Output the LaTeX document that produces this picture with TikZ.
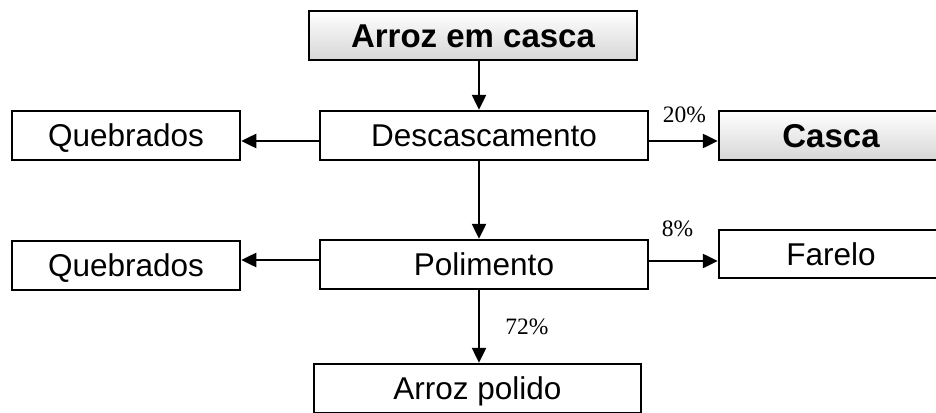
\documentclass[tikz,border=0pt]{standalone}
\usepackage{fontspec}
\usepackage{tikz}
\usetikzlibrary{arrows.meta,positioning}
\newfontfamily\boxfont{Liberation Sans}
\newfontfamily\pctfont{Liberation Serif}
\newcommand{\boxht}{49pt}
\tikzset{
    boxsty/.style={draw,line width=2.5pt,rectangle,fill=white,minimum height=\boxht,
                   inner sep=0pt,text height=22.5pt,text depth=0pt,
                   font=\boxfont\fontsize{31.5}{36}\selectfont},
    gradsty/.style={boxsty,top color=white,bottom color=gray!32,text height=23.5pt,
                    font=\boxfont\bfseries\fontsize{33}{38}\selectfont},
    arrsty/.style={line width=2.5pt,-{Triangle[length=15pt,width=14pt]}},
    pctsty/.style={inner sep=0pt,font=\pctfont\fontsize{23.5}{26}\selectfont},
}

\begin{document}
\begin{tikzpicture}[x=1pt,y=-1pt]
\useasboundingbox (0,0) rectangle (936,412);

% coluna central
\coordinate (col) at (479,0);

\node[gradsty,minimum width=328pt] (arroz)  at (473,35.5)  {Arroz em casca};
\node[boxsty,minimum width=328pt]  (desc)   at (484,135.5) {Descascamento};
\node[boxsty,minimum width=228pt]  (queb1)  at (126,135.5) {Quebrados};
\node[gradsty,minimum width=224pt] (casca)  at (831,135.5) {Casca};
\node[boxsty,minimum width=328pt]  (pol)    at (484,264.5) {Polimento};
\node[boxsty,minimum width=228pt]  (queb2)  at (126,265.5) {Quebrados};
\node[boxsty,minimum width=224pt,minimum height=48pt] (farelo) at (831,254) {Farelo};
\node[boxsty,minimum width=327pt]  (polido) at (477.5,388.5) {Arroz polido};

\draw[arrsty] (arroz.south -| col) -- (desc.north -| col);
\draw[arrsty] ([yshift=-5.5pt]desc.west) -- ([yshift=-5.5pt]queb1.east);
\draw[arrsty] ([yshift=-5.5pt]desc.east) -- node[pctsty,above=17pt,xshift=1pt] (p20) {20\%} ([yshift=-5.5pt]casca.west);
\draw[arrsty] (desc.south -| col) -- (pol.north -| col);
\draw[arrsty] ([yshift=4.5pt]pol.west) -- ([yshift=5.5pt]queb2.east);
\draw[arrsty] ([yshift=3.5pt]pol.east) -- node[pctsty,above=23pt,xshift=-6pt] (p8) {8\%} ([yshift=-7pt]farelo.west);
\draw[arrsty] (pol.south -| col) -- node[pctsty,right=25pt] (p72) {72\%} (polido.north -| col);
\end{tikzpicture}
\end{document}
